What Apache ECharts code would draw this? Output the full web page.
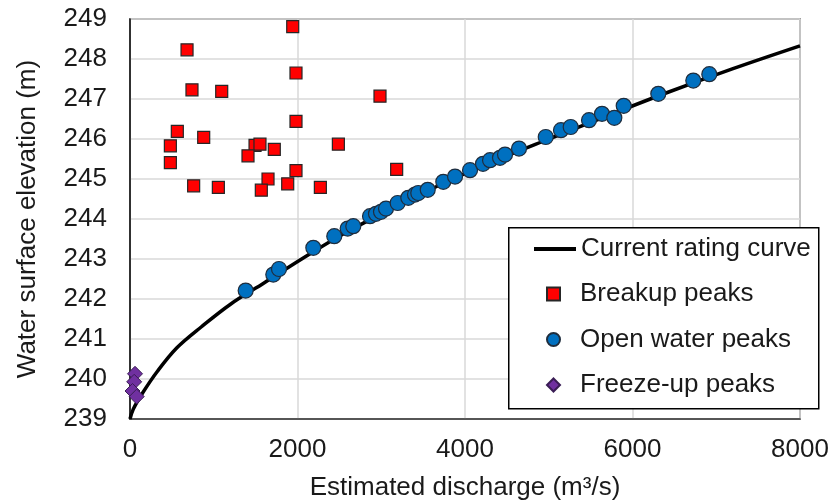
<!DOCTYPE html>
<html><head><meta charset="utf-8">
<script src="https://cdn.jsdelivr.net/npm/echarts@6/dist/echarts.min.js"></script>
<style>html,body{margin:0;padding:0;background:#fff}#c{width:831px;height:503px}</style>
</head><body><div id="c"></div>
<script>
// Axis ticks
const xTicks = [0, 2000, 4000, 6000, 8000];
const yTicks = [239, 240, 241, 242, 243, 244, 245, 246, 247, 248, 249];

// Current rating curve
const curveQ = [0, 40, 150, 330, 560, 850, 1200, 1600, 2050, 2550, 3100, 3700, 4350, 5000, 5700, 6400, 7200, 8000];
const curveE = [239.0, 239.25, 239.65, 240.2, 240.78, 241.3, 241.87, 242.4, 243.0, 243.63, 244.23, 244.85, 245.45, 246.0, 246.58, 247.15, 247.76, 248.33];

// Breakup peaks
const breakupQ = [1943, 681, 1982, 740, 1095, 2985, 1982, 565, 880, 482, 1493, 1552, 2488, 1723, 1409, 482, 1982, 3184, 1648, 760, 1055, 1883, 1568, 2273];
const breakupE = [248.81, 248.23, 247.65, 247.23, 247.19, 247.07, 246.44, 246.19, 246.04, 245.83, 245.84, 245.87, 245.87, 245.74, 245.58, 245.41, 245.21, 245.24, 245.0, 244.83, 244.79, 244.88, 244.72, 244.79];

// Open water peaks
const openQ = [1381, 1711, 1779, 2189, 2439, 2599, 2666, 2866, 2937, 2997, 3057, 3196, 3323, 3403, 3442, 3555, 3741, 3881, 4060, 4215, 4299, 4418, 4478, 4645, 4964, 5146, 5262, 5481, 5636, 5783, 5895, 6308, 6726, 6917];
const openE = [242.21, 242.61, 242.75, 243.28, 243.57, 243.76, 243.82, 244.07, 244.13, 244.18, 244.26, 244.40, 244.53, 244.61, 244.65, 244.73, 244.93, 245.06, 245.22, 245.38, 245.47, 245.53, 245.61, 245.76, 246.05, 246.22, 246.30, 246.47, 246.63, 246.53, 246.83, 247.13, 247.46, 247.62];

// Freeze-up peaks
const freezeQ = [60, 50, 30, 80];
const freezeE = [240.13, 239.93, 239.70, 239.56];

const zip = (a, b) => a.map((v, i) => [v, b[i]]);
const FONT = '"Liberation Sans", Arial, sans-serif';

const chart = echarts.init(document.getElementById('c'), null, {renderer: 'canvas'});
chart.setOption({
  animation: false,
  backgroundColor: '#fff',
  textStyle: {fontFamily: FONT},
  grid: {left: 130, top: 19, width: 670, height: 400, show: true, borderColor: '#595959', borderWidth: 1.5,
         containLabel: false, outerBoundsMode: 'none'},
  xAxis: {
    type: 'value', min: xTicks[0], max: xTicks[xTicks.length - 1], interval: xTicks[1] - xTicks[0],
    name: 'Estimated discharge (m³/s)', nameLocation: 'middle', nameGap: 56,
    nameTextStyle: {fontSize: 26, color: '#1a1a1a', fontFamily: FONT},
    axisLine: {show: true, lineStyle: {color: '#333', width: 1.5}},
    axisTick: {show: false},
    axisLabel: {fontSize: 26, color: '#1a1a1a', margin: 18, fontFamily: FONT, formatter: v => String(v)},
    splitLine: {show: true, lineStyle: {color: '#d9d9d9', width: 1.5}}
  },
  yAxis: {
    type: 'value', min: yTicks[0], max: yTicks[yTicks.length - 1], interval: yTicks[1] - yTicks[0],
    name: 'Water surface elevation (m)', nameLocation: 'middle', nameGap: 89,
    nameTextStyle: {fontSize: 26, color: '#1a1a1a', fontFamily: FONT},
    axisLine: {show: true, lineStyle: {color: '#000', width: 1.5}},
    axisTick: {show: false},
    axisLabel: {fontSize: 26, color: '#1a1a1a', margin: 23, fontFamily: FONT, formatter: v => String(v)},
    splitLine: {show: true, lineStyle: {color: '#d9d9d9', width: 1.5}}
  },
  graphic: [{
    type: 'rect', z: 3, left: 508, top: 227,
    shape: {width: 310, height: 181},
    style: {fill: '#fff', stroke: '#000', lineWidth: 1.5}
  }],
  legend: [{
    data: ['Current rating curve'], orient: 'vertical', left: 532, top: 234, padding: 0,
    itemWidth: 42, itemHeight: 14, z: 5,
    itemStyle: {color: 'rgba(0,0,0,0)', borderWidth: 0},
    lineStyle: {color: '#000', width: 4},
    textStyle: {fontSize: 26, color: '#1a1a1a', lineHeight: 30, fontFamily: FONT}
  }, {
    data: ['Breakup peaks', 'Open water peaks', 'Freeze-up peaks'], orient: 'vertical', left: 546, top: 279, padding: 0,
    itemWidth: 13, itemHeight: 13, itemGap: 15.5, z: 5,
    textStyle: {fontSize: 26, color: '#1a1a1a', lineHeight: 30, padding: [0, 0, 0, 15], fontFamily: FONT}
  }],
  series: [{
    name: 'Current rating curve', type: 'line', data: zip(curveQ, curveE), smooth: 0.35,
    symbol: 'none', lineStyle: {color: '#000', width: 3.5}, itemStyle: {color: '#000'}, z: 2
  }, {
    name: 'Breakup peaks', type: 'scatter', data: zip(breakupQ, breakupE), symbol: 'rect', symbolSize: 12,
    itemStyle: {color: '#ff0000', borderColor: '#262626', borderWidth: 1.2, opacity: 1}, z: 3
  }, {
    name: 'Open water peaks', type: 'scatter', data: zip(openQ, openE), symbol: 'circle', symbolSize: 15,
    itemStyle: {color: '#0070c0', borderColor: '#1f2d3d', borderWidth: 1.2, opacity: 1}, z: 3
  }, {
    name: 'Freeze-up peaks', type: 'scatter', data: zip(freezeQ, freezeE), symbol: 'diamond', symbolSize: 15,
    itemStyle: {color: '#7030a0', borderColor: '#3a1d55', borderWidth: 1, opacity: 1}, z: 3
  }]
});
</script></body></html>
